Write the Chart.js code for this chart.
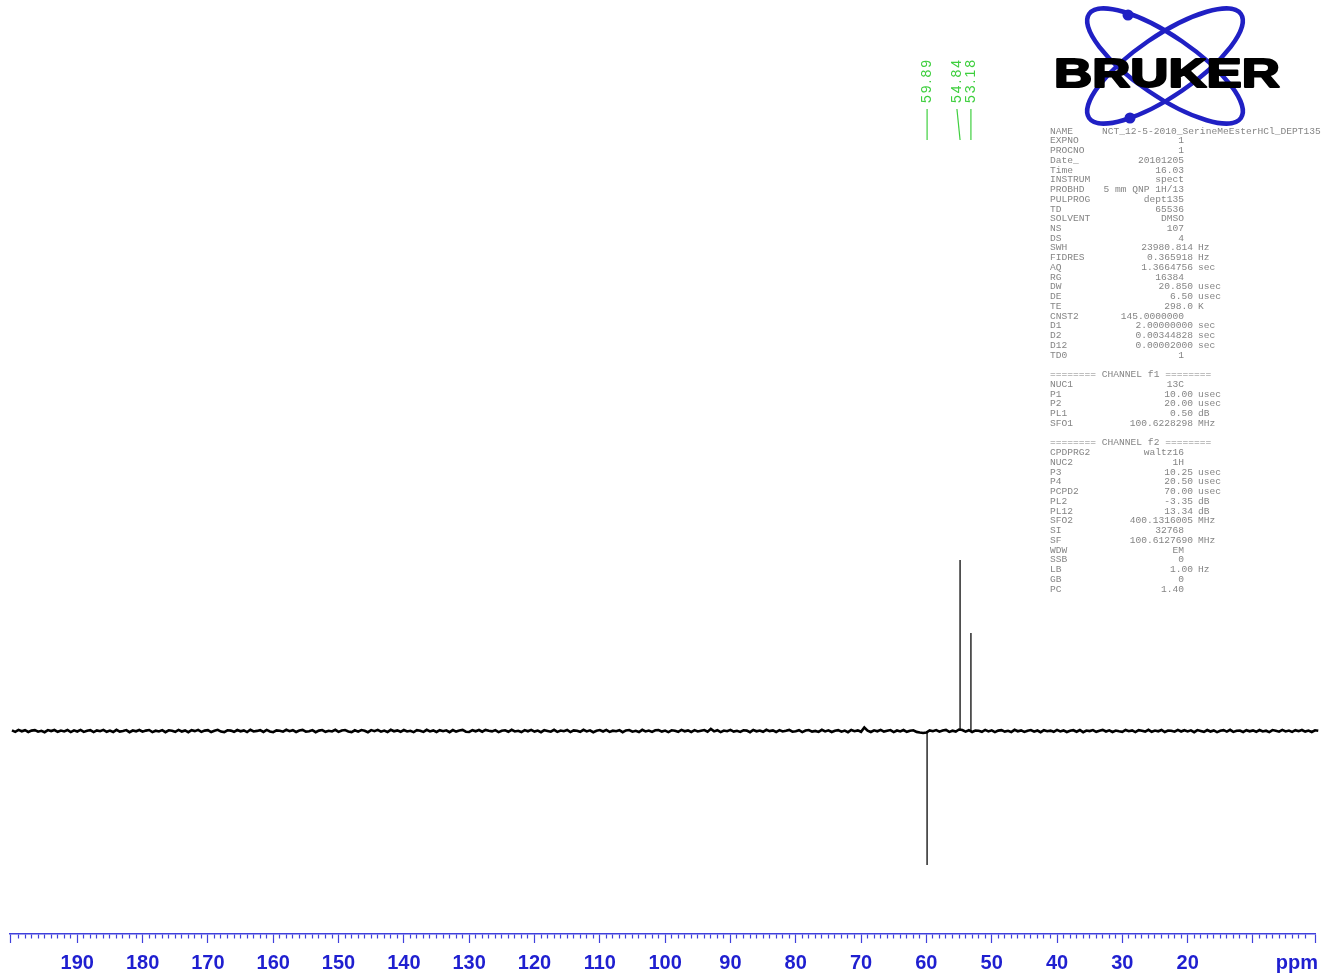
<!DOCTYPE html>
<html>
<head>
<meta charset="utf-8">
<title>DEPT135 - SerineMeEsterHCl</title>
<script src="https://cdn.jsdelivr.net/npm/chart.js@4.4.1/dist/chart.umd.min.js"></script>
<style>
  html, body { margin: 0; padding: 0; background: #fff; }
</style>
</head>
<body>
<canvas id="spectre" width="1327" height="976"></canvas>
<script>
// bruit de la ligne de base, un point tous les 0.5 ppm de 200 à 0
const baselineStart = 200;
const baselineStep = 0.5;
const baselineNoise = [
  0.6,-0.9,1.1,-0.3,0.8,-1.0,0.4,0.9,-0.7,0.2,-1.2,0.9,-0.1,1.0,-0.8,0.5,-0.4,1.0,-1.1,0.7,
  -0.5,1.1,-0.9,0.3,0.8,-1.1,0.6,-0.2,1.1,-0.8,0.4,-1.0,1.2,-0.6,0.1,0.9,-1.2,0.5,-0.3,1.0,
  -0.7,0.4,1.0,-1.1,0.3,-0.4,0.9,-1.2,0.7,0.2,-0.8,1.1,-0.5,0.6,-1.2,0.8,-0.1,1.1,-0.9,0.4,
  0.9,-1.0,0.2,1.2,-0.6,-1.1,0.7,0.4,-0.8,1.0,-0.3,0.6,-1.1,1.2,-0.5,0.1,0.8,-0.9,1.1,-0.4,
  -1.2,0.6,0.3,-0.7,1.2,-0.2,0.8,-1.0,0.5,1.1,-0.6,-0.3,0.9,-1.2,0.4,1.0,-0.8,0.2,-0.5,1.2,
  -0.9,0.5,1.0,-0.4,-1.1,0.7,-0.6,1.0,0.3,-1.2,0.9,-0.2,1.1,-0.7,0.4,-1.0,1.2,-0.3,0.6,-0.8,
  1.0,-0.5,0.2,-1.1,0.8,0.3,-0.9,1.2,-0.4,0.6,-1.0,0.8,-0.2,0.7,-1.2,0.9,-0.6,0.4,1.1,-0.7,
  -1.0,0.8,-0.3,1.0,-0.7,1.1,0.2,-0.4,0.9,-1.1,0.3,0.7,-0.8,1.2,-0.5,0.2,-1.0,0.9,-0.3,1.1,
  -0.6,0.4,-1.2,0.8,0.1,-0.7,1.2,-0.9,0.5,-0.2,1.0,-1.1,0.6,0.3,-0.8,1.2,-0.4,0.7,-1.2,0.2,
  0.9,-0.5,1.1,-0.9,0.3,-0.2,0.8,-1.2,0.6,1.0,-0.7,0.2,-1.0,1.2,-0.4,0.5,-0.9,0.7,1.0,-0.6,
  0.4,-1.1,0.7,0.2,-0.8,1.1,-0.3,0.6,-1.0,0.9,-0.5,0.3,1.0,-0.7,2.0,-0.4,0.8,-1.1,0.5,-0.2,
  1.1,-0.6,0.2,-0.9,0.7,0.4,-1.2,1.0,-0.3,0.5,-0.8,1.2,-0.1,0.6,-1.0,0.9,-0.5,0.2,1.1,-0.7,
  -0.3,0.8,-1.1,0.5,1.0,-0.6,0.1,-0.9,1.2,-0.4,0.7,-1.0,0.3,0.9,-0.7,0.4,-1.2,1.0,-0.2,0.6,
  -0.8,3.5,0.4,-1.0,0.7,-0.3,1.1,-0.6,0.2,0.9,-1.1,0.5,-0.4,1.0,-0.8,0.3,0.7,-0.9,-1.5,-2.0,
  -1.5,0.6,-0.2,0.9,-0.7,0.4,1.1,-0.9,0.3,-0.5,1.5,1.0,-0.6,0.8,-1.0,0.5,0.2,-0.8,1.1,-0.4,
  0.7,-1.1,0.4,0.9,-0.6,0.2,-1.0,1.2,-0.3,0.6,-0.9,0.3,1.0,-0.7,0.5,-1.2,0.8,-0.2,0.4,-0.8,
  1.1,-0.4,0.6,-1.0,0.2,0.8,-0.7,1.0,-1.2,0.5,-0.1,0.9,-0.8,0.3,1.1,-0.5,0.7,-1.0,0.4,-0.3,
  -0.9,1.0,-0.2,0.6,-1.1,0.8,0.3,-0.6,1.2,-0.8,0.4,-0.3,1.0,-1.0,0.5,0.2,-0.7,1.1,-0.5,0.8,
  -0.4,0.7,-1.2,0.9,0.1,-0.8,1.0,-0.5,0.6,-1.1,0.3,0.9,-0.6,1.2,-0.9,0.2,0.5,-1.0,0.8,-0.3,
  0.6,-0.8,1.0,-0.5,0.3,-1.1,0.9,0.2,-0.7,1.1,-0.4,0.5,-0.9,0.8,-0.2,1.0,-0.6,0.4,-1.0,0.7,
  0.2
];

// pics : position (ppm) et intensité (CH/CH3 positifs, CH2 négatif)
const peakPpm = [59.89, 54.84, 53.18];
const peakHeight = [-134, 171, 98];
const peakLabels = peakPpm.map(v => v.toFixed(2));

// graduations numérotées de l'axe ppm
const tickLabels = [190, 180, 170, 160, 150, 140, 130, 120, 110, 100, 90, 80, 70, 60, 50, 40, 30, 20];
const axisUnit = 'ppm';

// paramètres d'acquisition
const paramsAcq = [
  ['EXPNO', '1', ''], ['PROCNO', '1', ''], ['Date_', '20101205', ''], ['Time', '16.03', ''],
  ['INSTRUM', 'spect', ''], ['PROBHD', '5 mm QNP 1H/13', ''], ['PULPROG', 'dept135', ''],
  ['TD', '65536', ''], ['SOLVENT', 'DMSO', ''], ['NS', '107', ''], ['DS', '4', ''],
  ['SWH', '23980.814', 'Hz'], ['FIDRES', '0.365918', 'Hz'], ['AQ', '1.3664756', 'sec'],
  ['RG', '16384', ''], ['DW', '20.850', 'usec'], ['DE', '6.50', 'usec'], ['TE', '298.0', 'K'],
  ['CNST2', '145.0000000', ''], ['D1', '2.00000000', 'sec'], ['D2', '0.00344828', 'sec'],
  ['D12', '0.00002000', 'sec'], ['TD0', '1', '']
];
const paramsF1 = [
  ['NUC1', '13C', ''], ['P1', '10.00', 'usec'], ['P2', '20.00', 'usec'],
  ['PL1', '0.50', 'dB'], ['SFO1', '100.6228298', 'MHz']
];
const paramsF2 = [
  ['CPDPRG2', 'waltz16', ''], ['NUC2', '1H', ''], ['P3', '10.25', 'usec'], ['P4', '20.50', 'usec'],
  ['PCPD2', '70.00', 'usec'], ['PL2', '-3.35', 'dB'], ['PL12', '13.34', 'dB'],
  ['SFO2', '400.1316005', 'MHz'], ['SI', '32768', ''], ['SF', '100.6127690', 'MHz'],
  ['WDW', 'EM', ''], ['SSB', '0', ''], ['LB', '1.00', 'Hz'], ['GB', '0', ''], ['PC', '1.40', '']
];
const experimentName = 'NCT_12-5-2010_SerineMeEsterHCl_DEPT135';

const bleu = '#1f1fd0';
const tickFont = { family: 'Liberation Sans', size: 20, weight: 'bold' };

// spectre
const spectrum = baselineNoise.map((v, i) => ({ x: baselineStart - i * baselineStep, y: v }));
const spikes = [];
peakPpm.forEach((p, i) => {
  spikes.push({ x: p, y: 0 }, { x: p, y: peakHeight[i] }, { x: p, y: null });
});

// étiquettes vertes des pics
const peakLabelPlugin = {
  id: 'peakLabels',
  afterDatasetsDraw(chart) {
    const xs = chart.scales.x;
    const ctx = chart.ctx;
    const px = peakPpm.map(p => xs.getPixelForValue(p));
    // de droite à gauche, 14px minimum entre deux étiquettes
    const order = px.map((v, i) => i).sort((a, b) => px[b] - px[a]);
    const lx = [];
    let prev = Infinity;
    order.forEach(i => { lx[i] = Math.min(px[i], prev - 14); prev = lx[i]; });

    ctx.save();
    ctx.strokeStyle = '#3fcf3f';
    ctx.fillStyle = '#3fcf3f';
    ctx.lineWidth = 1.2;
    ctx.font = '14px "Liberation Sans"';
    ctx.letterSpacing = '2px';
    peakLabels.forEach((t, i) => {
      ctx.beginPath();
      ctx.moveTo(lx[i], 109);
      ctx.lineTo(px[i], 140);
      ctx.stroke();
      ctx.save();
      ctx.translate(lx[i], 103);
      ctx.rotate(-Math.PI / 2);
      ctx.textAlign = 'left';
      ctx.textBaseline = 'middle';
      ctx.fillText(t, 0, 0);
      ctx.restore();
    });
    ctx.restore();
  }
};

// unité "ppm" calée à droite, sur la ligne des graduations
const unitLabelPlugin = {
  id: 'unitLabel',
  afterDraw(chart) {
    const xs = chart.scales.x;
    const ctx = chart.ctx;
    const o = xs.options;
    const y = xs.top + o.grid.tickLength + o.ticks.padding + tickFont.size * 1.2 / 2;
    ctx.save();
    ctx.font = 'bold ' + tickFont.size + 'px "' + tickFont.family + '"';
    ctx.fillStyle = bleu;
    ctx.textAlign = 'right';
    ctx.textBaseline = 'middle';
    ctx.fillText(axisUnit, chart.chartArea.right + 3, y);
    ctx.restore();
  }
};

// logo + liste des paramètres à droite
const sidePanelPlugin = {
  id: 'sidePanel',
  afterDraw(chart) {
    const ctx = chart.ctx;
    ctx.save();

    // orbites
    ctx.strokeStyle = '#2020c4';
    ctx.lineWidth = 4.5;
    ctx.beginPath();
    ctx.ellipse(1165, 66, 92, 30, 0.6, 0, 2 * Math.PI);
    ctx.stroke();
    ctx.beginPath();
    ctx.ellipse(1165, 66, 92, 30, -0.6, 0, 2 * Math.PI);
    ctx.stroke();
    ctx.fillStyle = '#2020c4';
    ctx.beginPath(); ctx.arc(1128, 15, 5.5, 0, 2 * Math.PI); ctx.fill();
    ctx.beginPath(); ctx.arc(1130, 118, 5.5, 0, 2 * Math.PI); ctx.fill();

    // BRUKER
    ctx.save();
    ctx.translate(1054, 87);
    ctx.scale(1.32, 1);
    ctx.font = 'bold 40px "Liberation Sans"';
    ctx.fillStyle = '#000';
    ctx.strokeStyle = '#000';
    ctx.lineWidth = 2;
    ctx.lineJoin = 'round';
    ctx.textBaseline = 'alphabetic';
    ctx.strokeText('BRUKER', 0, 0);
    ctx.fillText('BRUKER', 0, 0);
    ctx.restore();

    // paramètres
    const x0 = 1050, valRight = 1184, unitRight = 1193, unitLeft = 1198;
    const lh = 9.745;
    let y = 131;
    ctx.font = '9.6px "Liberation Mono"';
    ctx.fillStyle = '#858585';
    ctx.textBaseline = 'middle';
    const row = ([name, val, unit]) => {
      ctx.textAlign = 'left';
      ctx.fillText(name, x0, y);
      ctx.textAlign = 'right';
      ctx.fillText(val, unit ? unitRight : valRight, y);
      if (unit) { ctx.textAlign = 'left'; ctx.fillText(unit, unitLeft, y); }
      y += lh;
    };
    ctx.textAlign = 'left';
    ctx.fillText('NAME', x0, y);
    ctx.fillText(experimentName, 1102, y);
    y += lh;
    paramsAcq.forEach(row);
    y += lh;
    ctx.textAlign = 'left';
    ctx.fillText('======== CHANNEL f1 ========', x0, y);
    y += lh;
    paramsF1.forEach(row);
    y += lh;
    ctx.textAlign = 'left';
    ctx.fillText('======== CHANNEL f2 ========', x0, y);
    y += lh;
    paramsF2.forEach(row);

    ctx.restore();
  }
};

const isLongTick = v => v % 10 === 0 || v === 0.5 || v === 200.3;

new Chart(document.getElementById('spectre'), {
  type: 'line',
  data: {
    datasets: [{
      data: spectrum,
      borderColor: '#000',
      borderWidth: 2.6,
      pointRadius: 0,
      tension: 0,
      clip: 8
    }, {
      data: spikes,
      borderColor: '#2a2a2a',
      borderWidth: 1.5,
      pointRadius: 0,
      tension: 0,
      spanGaps: false
    }]
  },
  options: {
    responsive: false,
    animation: false,
    layout: { padding: { left: 10, right: 12, top: 0, bottom: -7 } },
    plugins: {
      legend: { display: false },
      tooltip: { enabled: false }
    },
    scales: {
      x: {
        type: 'linear',
        reverse: true,
        min: 0.5,
        max: 200.3,
        border: { display: true, color: '#4040dc', width: 1.5 },
        grid: {
          drawOnChartArea: false,
          tickLength: 9,
          tickWidth: 1.2,
          tickColor: '#4040dc',
          tickBorderDash: c => (c.tick && isLongTick(c.tick.value)) ? [] : [4, 20]
        },
        ticks: {
          stepSize: 1,
          autoSkip: false,
          maxRotation: 0,
          padding: 8,
          color: bleu,
          font: tickFont,
          callback: v => tickLabels.includes(v) ? String(v) : ''
        }
      },
      y: {
        type: 'linear',
        display: false,
        min: -203,
        max: 731
      }
    }
  },
  plugins: [peakLabelPlugin, unitLabelPlugin, sidePanelPlugin]
});
</script>
</body>
</html>
